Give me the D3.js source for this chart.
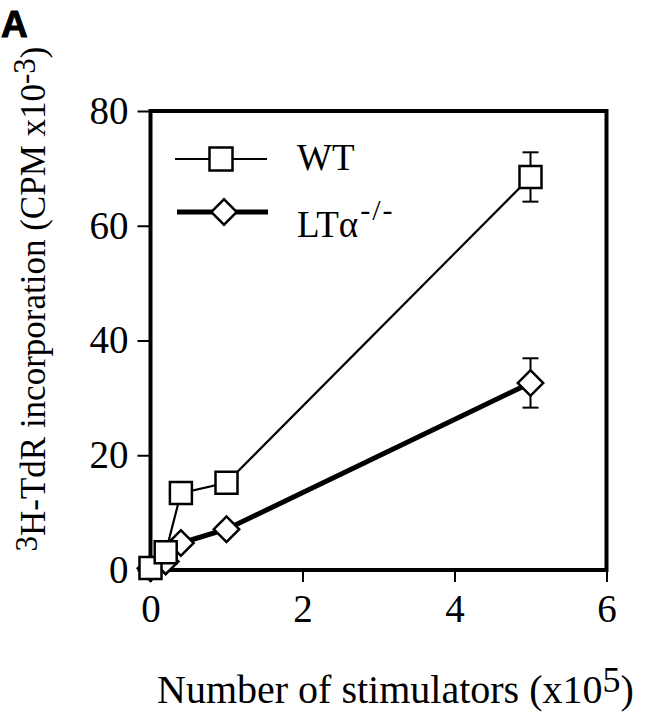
<!DOCTYPE html>
<html>
<head>
<meta charset="utf-8">
<script src="https://cdn.jsdelivr.net/npm/d3@7/dist/d3.min.js"></script>
<style>
body { margin: 0; background: #fff; }
</style>
</head>
<body>
<div id="chart"></div>
<script>
var chart_width = 660;
var chart_height = 720;

// Data
var stimulators = [0, 0.2, 0.4, 1, 5];
var wt_values = [0.35, 3.1, 13.4, 15.2, 68.5];
var wt_errors = [0, 0, 0, 0, 4.3];
var lt_values = [0.3, 1.5, 4.7, 7.1, 32.6];
var lt_errors = [0, 0, 0, 0, 4.3];
var x_ticks = [0, 2, 4, 6];
var y_ticks = [0, 20, 40, 60, 80];

var serif = '"Liberation Serif", "Times New Roman", serif';

var svg = d3.select('#chart')
			.append('svg')
			.attr('width', chart_width)
			.attr('height', chart_height);

// Scales
var x = d3.scaleLinear().domain([0, 6]).range([150.5, 606.5]);
var y = d3.scaleLinear().domain([0, 80]).range([570, 111]);

// Axes
var x_axis = svg.append('g')
			.attr('transform', 'translate(0,' + y(0) + ')')
			.call(d3.axisBottom(x).tickValues(x_ticks).tickFormat(d3.format('d')).tickSize(12).tickPadding(12));
var y_axis = svg.append('g')
			.attr('transform', 'translate(' + x(0) + ',0)')
			.call(d3.axisLeft(y).tickValues(y_ticks).tickFormat(d3.format('d')).tickSize(13).tickPadding(9));

[x_axis, y_axis].forEach(function(g){
	g.select('.domain').remove();
	g.attr('font-family', serif).attr('font-size', 39);
	g.selectAll('line').attr('stroke', '#000').attr('stroke-width', 2);
	g.selectAll('text').attr('fill', '#000');
});

// Frame
svg.append('rect')
	.attr('x', x(0))
	.attr('y', y(80))
	.attr('width', x(6) - x(0))
	.attr('height', y(0) - y(80))
	.attr('fill', 'none')
	.attr('stroke', '#000')
	.attr('stroke-width', 4);

function series(values, errors, lineWidth, marker){
	var pts = stimulators.map(function(s, i){
		return {x: s, y: values[i], e: errors[i]};
	});
	var line = d3.line()
			.x(function(d){ return x(d.x); })
			.y(function(d){ return y(d.y); });
	svg.append('path')
		.datum(pts)
		.attr('d', line)
		.attr('fill', 'none')
		.attr('stroke', '#000')
		.attr('stroke-width', lineWidth);

	// error bars
	var eb = svg.append('g').attr('stroke', '#000').attr('stroke-width', 2);
	pts.filter(function(d){ return d.e > 0; }).forEach(function(d){
		eb.append('line')
			.attr('x1', x(d.x)).attr('x2', x(d.x))
			.attr('y1', y(d.y + d.e)).attr('y2', y(d.y - d.e));
		[d.y + d.e, d.y - d.e].forEach(function(v){
			eb.append('line')
				.attr('x1', x(d.x) - 8).attr('x2', x(d.x) + 8)
				.attr('y1', y(v)).attr('y2', y(v));
		});
	});

	svg.selectAll(null)
		.data(pts)
		.enter()
		.append('path')
		.attr('d', marker)
		.attr('transform', function(d){
			return 'translate(' + x(d.x) + ',' + y(d.y) + ')' + (marker === diamond ? ' rotate(45)' : '');
		})
		.attr('fill', '#fff')
		.attr('stroke', '#000')
		.attr('stroke-width', 2.5);
}

var square = d3.symbol().type(d3.symbolSquare).size(22 * 22)();
var diamond = d3.symbol().type(d3.symbolSquare).size(18 * 18)();

series(lt_values, lt_errors, 5, diamond);
series(wt_values, wt_errors, 2.2, square);

// Legend
var legend = svg.append('g');
legend.append('line')
	.attr('x1', 175).attr('x2', 267).attr('y1', 159).attr('y2', 159)
	.attr('stroke', '#000').attr('stroke-width', 2.2);
legend.append('path')
	.attr('d', d3.symbol().type(d3.symbolSquare).size(23 * 23)())
	.attr('transform', 'translate(221,159)')
	.attr('fill', '#fff').attr('stroke', '#000').attr('stroke-width', 2.5);
legend.append('text')
	.attr('x', 297).attr('y', 170)
	.attr('font-family', serif).attr('font-size', 37)
	.text('WT');

legend.append('line')
	.attr('x1', 177).attr('x2', 268).attr('y1', 212).attr('y2', 212)
	.attr('stroke', '#000').attr('stroke-width', 5);
legend.append('path')
	.attr('d', diamond)
	.attr('transform', 'translate(224,212) rotate(45)')
	.attr('fill', '#fff').attr('stroke', '#000').attr('stroke-width', 2.5);
var lt_label = legend.append('text')
	.attr('x', 297).attr('y', 237)
	.attr('font-family', serif).attr('font-size', 37);
lt_label.append('tspan').text('LTα');
lt_label.append('tspan').attr('font-size', 30).attr('dx', 2).attr('dy', -17)
	.attr('letter-spacing', 2).text('-/-');

// Axis titles
var x_title = svg.append('text')
	.attr('x', 157).attr('y', 703)
	.attr('font-family', serif).attr('font-size', 40);
x_title.append('tspan').text('Number of stimulators (x10');
x_title.append('tspan').attr('font-size', 36).attr('dy', -11).text('5');
x_title.append('tspan').attr('dy', 11).text(')');

var y_title = svg.append('text')
	.attr('transform', 'translate(45,299) rotate(-90)')
	.attr('text-anchor', 'middle')
	.attr('font-family', serif).attr('font-size', 35);
y_title.append('tspan').attr('font-size', 31).attr('dy', -8).text('3');
y_title.append('tspan').attr('dy', 8).text('H-TdR incorporation (CPM x10');
y_title.append('tspan').attr('font-size', 31).attr('dy', -10).text('-3');
y_title.append('tspan').attr('dy', 10).text(')');

// Panel letter
svg.append('text')
	.attr('x', 1).attr('y', 37)
	.attr('font-family', '"Liberation Sans", Arial, sans-serif')
	.attr('font-weight', 900)
	.attr('font-size', 37)
	.attr('stroke', '#000').attr('stroke-width', 1)
	.text('A');
</script>
</body>
</html>
